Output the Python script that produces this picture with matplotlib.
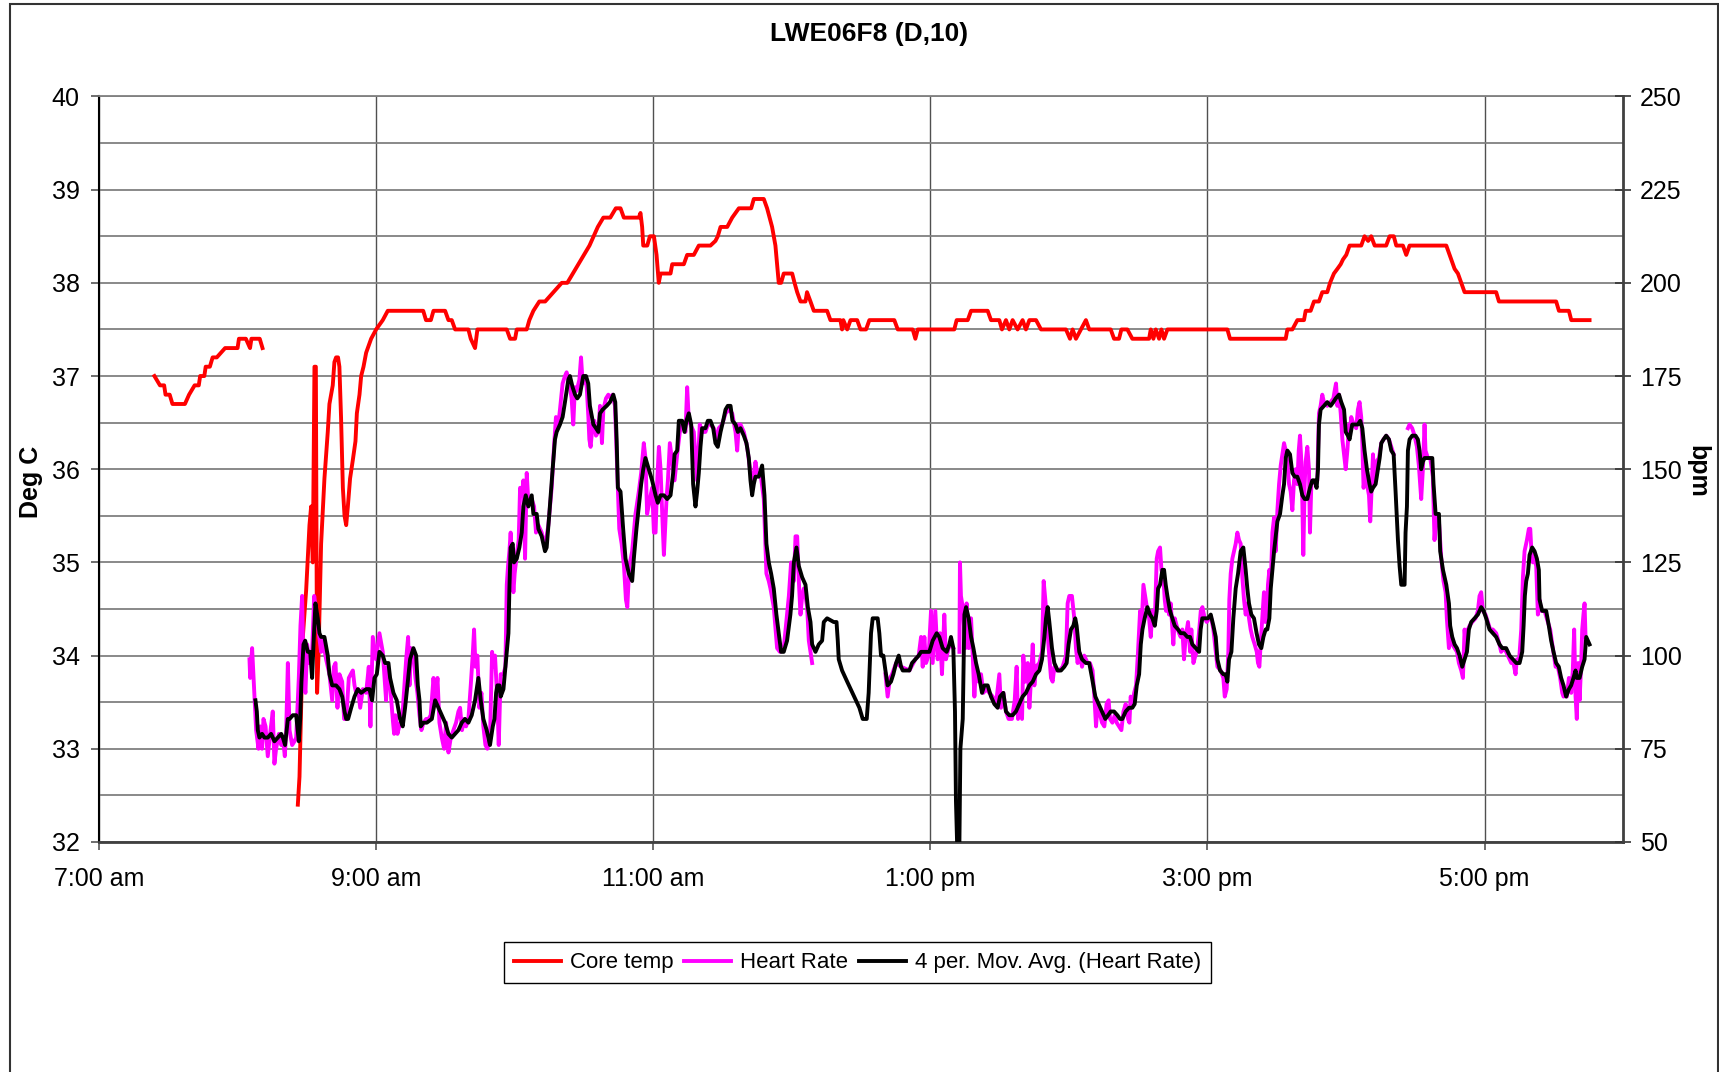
import numpy as np
import matplotlib
matplotlib.use('Agg')
import matplotlib.pyplot as plt
from matplotlib.ticker import MultipleLocator, FuncFormatter
from matplotlib.patches import Rectangle

plt.rcParams['font.family'] = ['Liberation Sans Narrow', 'Liberation Sans', 'DejaVu Sans']
nan = np.nan

# core temperature, deg C (time as decimal hours of the day)
core_time = [7.40, 7.44, 7.47, 7.48, 7.51, 7.53, 7.62, 7.65, 7.69, 7.72, 7.73, 7.76,
             7.77, 7.80, 7.82, 7.85, 7.91, 8.00, 8.01, 8.06, 8.09, 8.10, 8.16, 8.18,
             8.30,
             8.435, 8.447, 8.471, 8.495, 8.519, 8.531, 8.543, 8.555, 8.565, 8.574, 8.584,
             8.603, 8.627, 8.651, 8.663, 8.687, 8.699, 8.711, 8.725, 8.735, 8.747, 8.760,
             8.772, 8.784, 8.796, 8.812, 8.832, 8.851, 8.861, 8.880, 8.892, 8.909, 8.928,
             8.964, 9.0, 9.048, 9.084, 9.34, 9.36, 9.395, 9.414, 9.498, 9.522, 9.546,
             9.57, 9.666, 9.683, 9.714, 9.731, 9.943, 9.967, 10.003, 10.015, 10.087,
             10.106, 10.135, 10.178, 10.22, 10.28, 10.34, 10.38, 10.42, 10.46, 10.50,
             10.54, 10.57, 10.60, 10.64, 10.69, 10.73, 10.764, 10.788, 10.872, 10.896,
             10.908, 10.92, 10.928, 10.957, 10.976, 11.005, 11.024, 11.04, 11.053,
             11.125, 11.137, 11.221, 11.245, 11.293, 11.329, 11.413, 11.449, 11.466,
             11.486, 11.534, 11.57, 11.594, 11.618, 11.707, 11.726, 11.798, 11.822,
             11.858, 11.882, 11.894, 11.906, 11.923, 11.942, 12.003, 12.02, 12.039,
             12.063, 12.099, 12.11, 12.135, 12.159, 12.255, 12.279, 12.351, 12.363,
             12.372, 12.4, 12.424, 12.472, 12.496, 12.536, 12.56, 12.74, 12.765, 12.873,
             12.892, 12.909, 13.173, 13.19, 13.27, 13.294, 13.414, 13.438, 13.498,
             13.517, 13.546, 13.57, 13.594, 13.63, 13.666, 13.69, 13.715, 13.763,
             13.799, 13.979, 14.008, 14.027, 14.051, 14.087, 14.123, 14.147, 14.302,
             14.326, 14.362, 14.379, 14.422, 14.458, 14.579, 14.591, 14.61, 14.627,
             14.651, 14.668, 14.687, 14.711, 15.144, 15.163, 15.565, 15.577, 15.613,
             15.649, 15.697, 15.709, 15.745, 15.769, 15.805, 15.829, 15.865, 15.885,
             15.913, 15.938, 15.962, 15.978, 16.002, 16.026, 16.11, 16.134, 16.16,
             16.182, 16.207, 16.29, 16.315, 16.345, 16.363, 16.411, 16.435, 16.459,
             16.724, 16.748, 16.784, 16.808, 16.832, 16.856, 17.084, 17.104, 17.517,
             17.537, 17.609, 17.626, 17.758]
core_temp = [37.0, 36.9, 36.9, 36.8, 36.8, 36.7, 36.7, 36.8, 36.9, 36.9, 37.0, 37.0,
             37.1, 37.1, 37.2, 37.2, 37.3, 37.3, 37.4, 37.4, 37.3, 37.4, 37.4, 37.3,
             nan,
             32.4, 32.7, 34.2, 34.7, 35.4, 35.6, 35.0, 37.1, 37.1, 33.6, 34.0,
             35.2, 35.9, 36.4, 36.7, 36.9, 37.15, 37.2, 37.2, 37.1, 36.55, 35.8,
             35.5, 35.4, 35.6, 35.9, 36.1, 36.3, 36.6, 36.8, 37.0, 37.1, 37.25,
             37.4, 37.5, 37.6, 37.7, 37.7, 37.6, 37.6, 37.7, 37.7, 37.6, 37.6,
             37.5, 37.5, 37.4, 37.3, 37.5, 37.5, 37.4, 37.4, 37.5, 37.5,
             37.6, 37.7, 37.8, 37.8, 37.9, 38.0, 38.0, 38.1, 38.2, 38.3,
             38.4, 38.5, 38.6, 38.7, 38.7, 38.8, 38.8, 38.7, 38.7, 38.7,
             38.75, 38.6, 38.4, 38.4, 38.5, 38.5, 38.3, 38.0, 38.1,
             38.1, 38.2, 38.2, 38.3, 38.3, 38.4, 38.4, 38.45, 38.5,
             38.6, 38.6, 38.7, 38.75, 38.8, 38.8, 38.9, 38.9, 38.8,
             38.6, 38.4, 38.2, 38.0, 38.0, 38.1, 38.1, 38.0, 37.9,
             37.8, 37.8, 37.9, 37.8, 37.7, 37.7, 37.6, 37.6, 37.5,
             37.6, 37.5, 37.6, 37.6, 37.5, 37.5, 37.6, 37.6, 37.5, 37.5,
             37.4, 37.5, 37.5, 37.6, 37.6, 37.7, 37.7, 37.6, 37.6,
             37.5, 37.6, 37.5, 37.6, 37.5, 37.6, 37.5, 37.6, 37.6,
             37.5, 37.5, 37.4, 37.5, 37.4, 37.5, 37.6, 37.5, 37.5,
             37.4, 37.4, 37.5, 37.5, 37.4, 37.4, 37.5, 37.4, 37.5,
             37.4, 37.5, 37.4, 37.5, 37.5, 37.4, 37.4, 37.5, 37.5,
             37.6, 37.6, 37.7, 37.7, 37.8, 37.8, 37.9, 37.9, 38.0,
             38.1, 38.15, 38.2, 38.25, 38.3, 38.4, 38.4, 38.5, 38.45,
             38.5, 38.4, 38.4, 38.5, 38.5, 38.4, 38.4, 38.3, 38.4,
             38.4, 38.3, 38.15, 38.1, 38.0, 37.9, 37.9, 37.8, 37.8,
             37.7, 37.7, 37.6, 37.6]

# heart rate, bpm (nan = no reading)
hr_time = [8.086, 8.091, 8.105, 8.122, 8.134, 8.151, 8.163, 8.177, 8.187, 8.202, 8.218,
           8.235, 8.254, 8.266, 8.278, 8.298, 8.315, 8.327, 8.341, 8.351, 8.363, 8.375,
           8.394, 8.411, 8.423, 8.442, 8.454, 8.466, 8.476, 8.49, 8.502, 8.519, 8.538,
           8.553, 8.567, 8.586, 8.603, 8.615, 8.639, 8.663, 8.683, 8.695, 8.707, 8.721,
           8.735, 8.755, 8.769, 8.784, 8.803, 8.817, 8.832, 8.844, 8.856, 8.87, 8.885,
           8.904, 8.928, 8.947, 8.959, 8.976, 9.0, 9.024, 9.048, 9.072,
           9.082, 9.101, 9.12, 9.13, 9.14, 9.154, 9.173, 9.188, 9.197, 9.217, 9.231,
           9.241, 9.25, 9.269, 9.284, 9.298, 9.313, 9.327, 9.342, 9.361, 9.378, 9.394,
           9.414, 9.428, 9.443, 9.457, 9.474, 9.491, 9.505, 9.522, 9.539, 9.558, 9.577,
           9.594, 9.606, 9.62, 9.635, 9.649, 9.666, 9.683, 9.697, 9.707, 9.717, 9.731,
           9.745, 9.76, 9.774, 9.789, 9.803, 9.822, 9.837, 9.846, 9.858, 9.875, 9.885,
           9.899, 9.919, 9.933, 9.943, 9.952, 9.962, 9.971, 9.981, 9.991, 10.0, 10.015,
           10.029, 10.039, 10.051, 10.063, 10.075, 10.087, 10.099, 10.123, 10.14, 10.154,
           10.171, 10.195, 10.219, 10.243, 10.267, 10.284, 10.298, 10.315, 10.327,
           10.346, 10.363, 10.375, 10.39, 10.411, 10.423, 10.435, 10.447, 10.467,
           10.479, 10.491, 10.508, 10.52, 10.532, 10.539, 10.548, 10.563, 10.575,
           10.587, 10.604, 10.616, 10.63, 10.64, 10.659, 10.676, 10.693, 10.707,
           10.724, 10.741, 10.755, 10.772, 10.789, 10.803, 10.813, 10.827,
           10.848, 10.872, 10.896, 10.913, 10.932, 10.944, 10.956, 10.976, 10.992,
           11.005, 11.017, 11.029, 11.041, 11.053, 11.065, 11.077, 11.096, 11.106,
           11.12, 11.137, 11.154, 11.173, 11.192, 11.209, 11.233, 11.245, 11.257,
           11.269, 11.293, 11.317, 11.336, 11.353, 11.377, 11.394, 11.413, 11.437,
           11.461, 11.473, 11.497, 11.522, 11.546, 11.57, 11.594, 11.606, 11.618,
           11.63, 11.654, 11.678, 11.702, 11.721, 11.738, 11.75, 11.774, 11.798,
           11.817, 11.834, 11.846, 11.87, 11.894, 11.914, 11.942, 11.966, 11.979,
           11.995, 12.015, 12.027, 12.039, 12.051, 12.063, 12.075, 12.087, 12.099,
           12.111, 12.123, 12.135, 12.147,
           12.4,
           12.676, 12.692, 12.709, 12.724, 12.753, 12.789, 12.849, 12.892, 12.916,
           12.933, 12.945, 12.957, 12.969, 12.988, 13.005, 13.017, 13.036, 13.053,
           13.07, 13.084, 13.101, 13.113, 13.132, 13.149, 13.166,
           13.19,
           13.21, 13.214, 13.221, 13.234, 13.253, 13.262, 13.277, 13.294, 13.306,
           13.318, 13.33, 13.349, 13.366, 13.383, 13.402, 13.426, 13.45, 13.474,
           13.498, 13.51, 13.527, 13.546, 13.565, 13.589, 13.609, 13.623, 13.633,
           13.647, 13.662, 13.671, 13.686, 13.703, 13.715, 13.727, 13.739, 13.751,
           13.763, 13.787, 13.806, 13.818, 13.83, 13.84, 13.854, 13.871, 13.883,
           13.895, 13.912, 13.931, 13.955, 13.979, 13.991, 14.003, 14.022, 14.039,
           14.051, 14.063, 14.075, 14.095, 14.111, 14.135, 14.152, 14.171, 14.184,
           14.196, 14.208, 14.22, 14.239, 14.256, 14.272, 14.287,
           14.297, 14.314, 14.331, 14.345, 14.362, 14.379, 14.394, 14.41, 14.427,
           14.437, 14.446, 14.461, 14.471, 14.485, 14.499, 14.514, 14.523, 14.538,
           14.555, 14.567, 14.579, 14.591, 14.603, 14.62, 14.634, 14.644, 14.658,
           14.668, 14.682, 14.692, 14.701, 14.711, 14.723, 14.735, 14.754, 14.764,
           14.778, 14.795, 14.807, 14.819, 14.831, 14.843, 14.86, 14.875, 14.884,
           14.899, 14.913, 14.923, 14.939, 14.952, 14.964, 14.98, 14.995, 15.012,
           15.028, 15.043, 15.06, 15.072, 15.096, 15.115, 15.125, 15.139, 15.151,
           15.158, 15.168, 15.18, 15.192, 15.204, 15.216, 15.228, 15.24, 15.252,
           15.264, 15.276, 15.288, 15.3, 15.312, 15.324, 15.341, 15.356, 15.365,
           15.375, 15.384, 15.396, 15.408, 15.418, 15.428, 15.437, 15.447, 15.457,
           15.469, 15.481, 15.493, 15.505, 15.517, 15.529, 15.541, 15.553, 15.565,
           15.577, 15.589, 15.601, 15.613, 15.625, 15.637, 15.649, 15.659, 15.668,
           15.678, 15.685, 15.692, 15.702, 15.709, 15.721, 15.733, 15.74, 15.75,
           15.764, 15.781, 15.793, 15.805, 15.817, 15.829, 15.841, 15.865, 15.889,
           15.909, 15.918, 15.928, 15.938, 15.95, 15.962, 15.974, 15.986, 15.998,
           16.01, 16.022,
           16.026, 16.038, 16.055, 16.074, 16.086, 16.098, 16.11, 16.118, 16.127,
           16.142, 16.151, 16.166, 16.175, 16.182, 16.195, 16.207, 16.219, 16.238,
           16.255, 16.271, 16.291, 16.31, 16.327, 16.344,
           16.40,
           16.447, 16.459, 16.478, 16.495, 16.512, 16.526, 16.543, 16.555, 16.567,
           16.574, 16.591, 16.608, 16.627, 16.639, 16.651, 16.671, 16.688, 16.704,
           16.719, 16.728, 16.743, 16.752, 16.767, 16.784, 16.801, 16.815, 16.832,
           16.844, 16.856, 16.868, 16.88, 16.892, 16.911, 16.935, 16.952, 16.964,
           16.976, 16.988, 17.007, 17.024, 17.041, 17.06, 17.084, 17.108, 17.12,
           17.137, 17.156, 17.181, 17.193, 17.209, 17.224, 17.233, 17.248, 17.265,
           17.277, 17.289, 17.306, 17.32, 17.33, 17.337, 17.349, 17.361, 17.373,
           17.385, 17.397, 17.409, 17.433, 17.457, 17.474, 17.493, 17.513, 17.529,
           17.546, 17.561, 17.57, 17.585, 17.594, 17.609, 17.626, 17.637, 17.647,
           17.657, 17.666, 17.676, 17.686, 17.698, 17.705, 17.714, 17.722, 17.729]
hr_bpm = [99, 94, 102, 89, 80, 75, 81, 75, 83, 81, 73,
          79, 85, 71, 75, 79, 76, 78, 73, 80, 98, 80,
          76, 77, 78, 94, 108, 116, 94, 90, 103, 98, 101,
          116, 112, 106, 101, 104, 99, 95, 88, 97, 98, 86,
          95, 93, 83, 83, 94, 95, 96, 92, 90, 91, 86,
          91, 90, 97, 81, 105, 99, 106, 101, 88,
          97, 92, 83, 79, 84, 79, 82, 82, 88, 99, 105,
          92, 102, 100, 94, 90, 84, 80, 82, 83, 83, 84,
          94, 88, 94, 82, 78, 75, 82, 74, 78, 80, 82,
          85, 86, 80, 83, 81, 83, 92, 100, 107, 97, 100,
          86, 90, 81, 76, 75, 78, 101, 97, 100, 88, 76,
          95, 95, 97, 119, 124, 128, 133, 124, 117, 122, 127,
          131, 145, 143, 147, 126, 149, 141, 142, 140, 133,
          135, 133, 129, 135, 145, 156, 164, 162, 166,
          173, 175, 176, 174, 169, 162, 172, 171, 174,
          180, 173, 175, 172, 164, 158, 156, 162, 163,
          159, 160, 167, 157, 166, 169, 170, 169, 170,
          167, 149, 134, 130, 124, 115, 113, 124,
          128, 138, 144, 149, 157, 153, 138, 142, 145,
          133, 133, 147, 156, 150, 138, 127, 142, 147,
          157, 152, 147, 154, 160, 162, 160, 172, 163,
          162, 160, 147, 162, 160, 160, 162, 162, 161,
          158, 161, 162, 165, 166, 165, 160, 155, 162,
          162, 160, 156, 149, 147, 152, 149, 149, 142,
          122, 120, 118, 113, 102, 101, 102, 111, 116,
          125, 120, 132, 132, 120, 111, 116, 118, 116,
          113, 104, 101, 98,
          nan,
          95, 89, 94, 95, 98, 97, 96, 99, 100,
          105, 97, 105, 98, 100, 112, 98, 112, 99,
          106, 95, 111, 99, 102, 103, 102,
          nan,
          101, 125, 116, 113, 102, 114, 102, 110, 100,
          89, 97, 93, 95, 90, 91, 90, 89, 87,
          95, 86, 90, 85, 83, 83, 88, 97, 83,
          88, 83, 100, 93, 98, 86, 94, 103, 92,
          97, 98, 101, 120, 115, 110, 102, 94, 93,
          97, 96, 96, 97, 100, 114, 116, 116, 110,
          102, 98, 101, 97, 100, 98, 98, 96, 89,
          81, 87, 85, 82, 81, 87, 88,
          83, 82, 84, 82, 81, 80, 85, 87, 83,
          82, 89, 87, 90, 92, 101, 112, 106, 119,
          115, 112, 110, 105, 112, 109, 126, 128, 129,
          123, 121, 115, 112, 114, 111, 114, 103, 110,
          108, 106, 105, 107, 99, 105, 109, 101, 107,
          98, 100, 101, 106, 112, 113, 110, 109, 110,
          110, 107, 101, 97, 96, 94, 89, 91, 101,
          115, 122, 126, 128, 130, 133, 131, 130, 121,
          115, 111, 114, 110, 107, 105, 103, 101, 98,
          97, 103, 110, 117, 109, 110, 119, 123, 119,
          133, 137, 128, 139, 146, 151, 154, 157, 155,
          152, 146, 144, 139, 147, 150, 146, 155, 159,
          152, 141, 127, 146, 152, 156, 150, 133, 146,
          147, 146, 147, 165, 167, 170, 168, 167, 168,
          169, 171, 173, 167, 170, 165, 158, 154, 150,
          155, 162,
          159, 164, 162, 161, 166, 168, 164, 157, 145,
          150, 146, 143, 136, 142, 154, 146, 152, 153,
          157, 158, 159, 158, 156, 154,
          nan,
          161, 162, 161, 159, 156, 151, 142, 150, 162,
          155, 153, 153, 148, 131, 138, 136, 126, 120,
          117, 110, 102, 107, 103, 102, 101, 98, 96,
          94, 107, 101, 107, 108, 109, 110, 112, 116,
          117, 112, 111, 109, 107, 107, 106, 103, 101,
          102, 101, 99, 98, 98, 95, 99, 98, 107,
          121, 128, 131, 134, 134, 129, 125, 126, 124,
          111, 115, 112, 112, 109, 107, 102, 97, 97,
          94, 90, 89, 90, 89, 94, 90, 96, 107,
          89, 83, 98, 88, 98, 107, 111, 114, 105]

# 4 period moving average of the heart rate, bpm
avg_time = [8.129, 8.139, 8.146, 8.158, 8.177, 8.194, 8.218, 8.242, 8.266, 8.29, 8.315,
            8.327, 8.343, 8.363, 8.375, 8.399, 8.423, 8.442, 8.452, 8.461, 8.476, 8.488,
            8.507, 8.524, 8.538, 8.548, 8.562, 8.579, 8.591, 8.603, 8.627, 8.651, 8.663,
            8.683, 8.711, 8.735, 8.755, 8.772, 8.784, 8.798, 8.82, 8.844, 8.868, 8.892,
            8.928, 8.952, 8.971, 8.988, 9.005, 9.024, 9.048,
            9.065, 9.089, 9.101, 9.125, 9.149, 9.173, 9.192, 9.209, 9.226, 9.245, 9.269,
            9.289, 9.301, 9.313, 9.322, 9.341, 9.366, 9.402, 9.426, 9.45, 9.474, 9.498,
            9.522, 9.546, 9.57, 9.594, 9.618, 9.642, 9.666, 9.69, 9.714, 9.738, 9.755,
            9.774, 9.798, 9.822, 9.842, 9.854, 9.866, 9.875, 9.89, 9.899, 9.919, 9.938,
            9.955, 9.962, 9.971, 9.986, 9.995, 10.015, 10.034, 10.051, 10.063, 10.08,
            10.099, 10.123, 10.135, 10.159, 10.171, 10.195, 10.219, 10.231, 10.25,
            10.274, 10.291, 10.303, 10.327, 10.346, 10.363, 10.387, 10.399, 10.418,
            10.436, 10.452, 10.471, 10.495, 10.515, 10.531, 10.543, 10.568, 10.587,
            10.604, 10.616, 10.635, 10.664, 10.688, 10.712, 10.726, 10.736, 10.745,
            10.764, 10.783, 10.8, 10.824, 10.848, 10.86, 10.879, 10.896, 10.913, 10.928,
            10.944, 10.968, 10.992, 11.017, 11.033, 11.053, 11.077, 11.101, 11.125,
            11.144, 11.154, 11.173, 11.185, 11.209, 11.226, 11.24, 11.257, 11.274,
            11.288, 11.305, 11.317, 11.329, 11.341, 11.353, 11.377, 11.394, 11.413,
            11.433, 11.449, 11.466, 11.486, 11.505, 11.522, 11.538, 11.558, 11.572,
            11.594, 11.611, 11.63, 11.654, 11.673, 11.69, 11.702, 11.714, 11.726,
            11.738, 11.762, 11.786, 11.803, 11.817, 11.834, 11.851, 11.87, 11.889,
            11.906, 11.923, 11.942, 11.966, 11.99, 12.002, 12.015, 12.034, 12.051,
            12.075, 12.099, 12.116, 12.135, 12.147, 12.171, 12.195, 12.219, 12.231,
            12.255, 12.303, 12.323, 12.332, 12.339, 12.363, 12.4,
            12.488, 12.512, 12.541, 12.555, 12.572, 12.584, 12.62, 12.632, 12.644,
            12.661, 12.676, 12.692, 12.716, 12.733, 12.753, 12.772, 12.789, 12.801,
            12.849, 12.868, 12.892, 12.916, 12.933, 12.957, 12.993, 13.017, 13.046,
            13.065, 13.089, 13.118, 13.137, 13.149, 13.166, 13.178, 13.185, 13.193,
            13.21, 13.217, 13.234, 13.246, 13.258, 13.277, 13.294, 13.311, 13.33,
            13.349, 13.373, 13.39, 13.414, 13.438, 13.462, 13.486, 13.503, 13.527,
            13.546, 13.57, 13.594, 13.618, 13.642, 13.666, 13.69, 13.715, 13.739,
            13.763, 13.787, 13.806, 13.823, 13.835, 13.847, 13.859, 13.878, 13.895,
            13.919, 13.943, 13.967, 13.984, 13.998, 14.015, 14.032, 14.046, 14.056,
            14.075, 14.095, 14.123, 14.147, 14.167, 14.191, 14.215, 14.239, 14.263,
            14.283, 14.302, 14.326, 14.35, 14.369, 14.386, 14.41, 14.434, 14.458,
            14.475, 14.49, 14.507, 14.519, 14.531, 14.547, 14.567, 14.586, 14.603,
            14.62, 14.634, 14.644, 14.658, 14.675, 14.687, 14.699, 14.711, 14.73,
            14.747, 14.764, 14.788, 14.807, 14.831, 14.855, 14.875, 14.891, 14.915,
            14.94, 14.951, 14.963, 14.988, 15.004, 15.024, 15.043, 15.06, 15.072,
            15.091, 15.115, 15.132, 15.144, 15.156, 15.173, 15.187, 15.204, 15.221,
            15.24, 15.259, 15.276, 15.288, 15.3, 15.317, 15.336, 15.355, 15.372,
            15.389, 15.404, 15.42, 15.432, 15.447, 15.457, 15.469, 15.481, 15.493,
            15.505, 15.524, 15.541, 15.553, 15.565, 15.577, 15.596, 15.613, 15.63,
            15.649, 15.668, 15.685, 15.702, 15.721, 15.74, 15.757, 15.774, 15.788,
            15.798, 15.805, 15.817, 15.841, 15.865, 15.889, 15.909, 15.926, 15.95,
            15.966, 15.986, 15.998, 16.014,
            16.026, 16.045, 16.062, 16.086, 16.103, 16.118, 16.134, 16.151, 16.17,
            16.182, 16.195, 16.214, 16.231, 16.243, 16.255, 16.271, 16.29, 16.31,
            16.327, 16.344, 16.358, 16.375, 16.387, 16.399, 16.423, 16.43, 16.44,
            16.447, 16.459, 16.478, 16.502, 16.519, 16.531, 16.543, 16.555, 16.567,
            16.608, 16.623, 16.632, 16.647, 16.671, 16.68, 16.7, 16.724, 16.743,
            16.752, 16.767, 16.784, 16.801, 16.82, 16.839, 16.856, 16.873, 16.887,
            16.904, 16.928, 16.952, 16.976, 16.993, 17.012, 17.036, 17.06, 17.084,
            17.108, 17.128, 17.156, 17.181, 17.205, 17.229, 17.253, 17.272, 17.282,
            17.291, 17.301, 17.313, 17.325, 17.344, 17.361, 17.378, 17.392, 17.397,
            17.416, 17.445, 17.464, 17.481, 17.498, 17.517, 17.536, 17.553, 17.57,
            17.589, 17.609, 17.625, 17.642, 17.657, 17.666, 17.686, 17.705, 17.722,
            17.734, 17.746, 17.758]
avg_bpm = [88, 85, 80, 78, 79, 78, 78, 79, 77, 78, 79,
           78, 76, 83, 83, 84, 84, 77, 83, 93, 103, 104,
           101, 101, 94, 103, 114, 110, 106, 105, 105, 100, 95,
           92, 92, 91, 89, 85, 83, 83, 86, 89, 91, 90,
           91, 91, 88, 94, 95, 101, 100,
           98, 98, 94, 90, 88, 83, 81, 86, 92, 99, 102,
           100, 92, 88, 81, 82, 82, 83, 88, 86, 84, 82,
           79, 78, 79, 80, 82, 83, 82, 84, 88, 94, 88,
           83, 80, 76, 81, 83, 90, 92, 92, 89, 91, 99,
           106, 118, 129, 130, 125, 126, 129, 133, 140, 143,
           140, 143, 138, 138, 134, 132, 128, 129, 138,
           150, 158, 160, 162, 164, 168, 174, 175, 172,
           170, 169, 170, 175, 175, 173, 167, 162, 161,
           160, 165, 166, 167, 168, 170, 168, 158, 145,
           144, 134, 126, 122, 120, 126, 134, 140, 146, 150,
           153, 150, 147, 143, 141, 143, 143, 142, 143,
           149, 154, 155, 163, 163, 160, 163, 165, 162,
           146, 140, 144, 149, 156, 161, 161, 163, 163,
           161, 157, 156, 160, 163, 166, 167, 167, 163,
           162, 160, 161, 159, 157, 153, 147, 143, 146,
           148, 148, 151, 143, 130, 125, 122, 118, 111,
           106, 101, 101, 104, 111, 116, 125, 129, 124,
           121, 119, 113, 109, 103, 101, 103, 104, 109,
           110, 109, 109, 104, 99, 96, 93,
           86, 83, 83, 90, 106, 110, 110, 106, 100,
           100, 96, 92, 93, 95, 98, 100, 97, 96,
           96, 98, 99, 100, 101, 101, 101, 104, 106,
           105, 102, 101, 103, 105, 102, 85, 61, 50,
           50, 75, 83, 111, 113, 110, 105, 102, 98,
           95, 90, 92, 92, 89, 87, 86, 89, 90,
           85, 84, 84, 85, 87, 89, 90, 92, 93,
           95, 96, 99, 105, 110, 113, 109, 102, 98,
           96, 96, 97, 98, 103, 107, 108, 110, 108,
           101, 99, 98, 98, 94, 89, 87, 85, 83,
           84, 85, 85, 84, 83, 83, 85, 86, 86,
           87, 92, 95, 103, 107, 110, 113, 111, 110,
           108, 112, 118, 119, 123, 123, 119, 116, 112,
           110, 108, 107, 106, 106, 105, 105, 103, 102,
           101, 107, 110, 110, 110, 111, 108, 105, 99,
           96, 95, 95, 93, 99, 101, 110, 118, 122,
           128, 129, 123, 118, 114, 111, 110, 106, 103,
           102, 105, 107, 107, 110, 118, 123, 128, 132,
           136, 138, 143, 146, 153, 155, 154, 149, 148,
           148, 146, 143, 142, 142, 145, 147, 147, 145,
           150, 162, 166, 167, 168, 167, 168, 169, 170,
           168, 166, 160, 159,
           158, 162, 162, 162, 163, 161, 155, 150, 146,
           144, 145, 146, 150, 153, 157, 158, 159, 158,
           155, 154, 144, 131, 124, 119, 119, 133, 140,
           155, 158, 159, 159, 158, 155, 150, 152, 153,
           153, 153, 146, 138, 138, 128, 123, 119, 114,
           108, 105, 103, 102, 100, 97, 99, 101, 107,
           109, 110, 111, 113, 112, 110, 107, 106, 105,
           103, 102, 102, 100, 99, 98, 98, 101, 108,
           116, 120, 122, 127, 129, 128, 126, 123, 115,
           112, 112, 108, 104, 101, 98, 97, 94, 92,
           89, 91, 92, 94, 96, 94, 94, 97, 99,
           105, 104, 103]

x_ticks = [7, 9, 11, 13, 15, 17]
temp_ticks = [32, 33, 34, 35, 36, 37, 38, 39, 40]
bpm_ticks = [50, 75, 100, 125, 150, 175, 200, 225, 250]


def clock(h, pos=None):
    hr = int(round(h))
    if hr < 12:
        return '%d:00 am' % hr
    if hr == 12:
        return '12:00 pm'
    return '%d:00 pm' % (hr - 12)


fig = plt.figure(figsize=(17.19, 10.72), dpi=100)
ax = fig.add_axes([0.0576, 0.2146, 0.8866, 0.6954])
ax2 = ax.twinx()

l1, = ax.plot(core_time, core_temp, color='#ff0000', lw=2.8, label='Core temp')
l2, = ax2.plot(hr_time, hr_bpm, color='#ff00ff', lw=2.8, label='Heart Rate')
l3, = ax2.plot(avg_time, avg_bpm, color='black', lw=2.8,
               label='4 per. Mov. Avg. (Heart Rate)')

ax.set_xlim(7, 18)
ax.set_ylim(32, 40)
ax2.set_ylim(50, 250)
ax.set_xticks(x_ticks)
ax.xaxis.set_major_formatter(FuncFormatter(clock))
ax.set_yticks(temp_ticks)
ax.yaxis.set_minor_locator(MultipleLocator(0.5))
ax2.set_yticks(bpm_ticks)

ax.set_axisbelow(True)
ax.grid(axis='y', which='both', color='#808080', lw=1.3)
ax.grid(axis='x', which='major', color='#505050', lw=1.0)

ax.tick_params(axis='y', which='major', direction='out', length=6, width=1.2,
               color='#555555', labelsize=18, pad=8)
ax.tick_params(axis='y', which='minor', length=0)
ax.tick_params(axis='x', direction='out', length=6, width=1.2, color='#555555',
               labelsize=18, pad=12)
ax2.tick_params(axis='y', direction='inout', length=12, width=1.2, color='#333333',
                labelsize=18, pad=6)

ax.spines['left'].set_color('black')
ax.spines['left'].set_linewidth(1.5)
ax.spines['bottom'].set_color('#404040')
ax.spines['bottom'].set_linewidth(2.0)
ax.spines['top'].set_color('#808080')
ax.spines['top'].set_linewidth(1.3)
ax.spines['right'].set_visible(False)
for side in ['left', 'top', 'bottom']:
    ax2.spines[side].set_visible(False)
ax2.spines['right'].set_color('#404040')
ax2.spines['right'].set_linewidth(2.0)

fig.text(869 / 1719, 1 - 34 / 1072, 'LWE06F8 (D,10)', ha='center', va='center',
         fontsize=19, fontweight='bold')
fig.text(31 / 1719, 1 - 482 / 1072, 'Deg C', ha='center', va='center',
         rotation=90, fontsize=18, fontweight='bold')
fig.text(1697 / 1719, 1 - 471 / 1072, 'bpm', ha='center', va='center',
         rotation=270, fontsize=18, fontweight='bold')

leg = fig.legend([l1, l2, l3], [l1.get_label(), l2.get_label(), l3.get_label()],
                 loc='center', bbox_to_anchor=(0.4988, 0.1017), ncol=3,
                 fontsize=16, frameon=True, fancybox=False, edgecolor='black',
                 framealpha=1, handlelength=2.1, handletextpad=0.4,
                 columnspacing=0.5, borderpad=0.45)
leg.get_frame().set_linewidth(1.0)

# outer chart border
fig.patches.append(Rectangle((10 / 1719, -0.05), 1708 / 1719, 1.0463,
                             transform=fig.transFigure, fill=False,
                             ec='#333333', lw=1.5))

fig.savefig('out.png', dpi=100)
